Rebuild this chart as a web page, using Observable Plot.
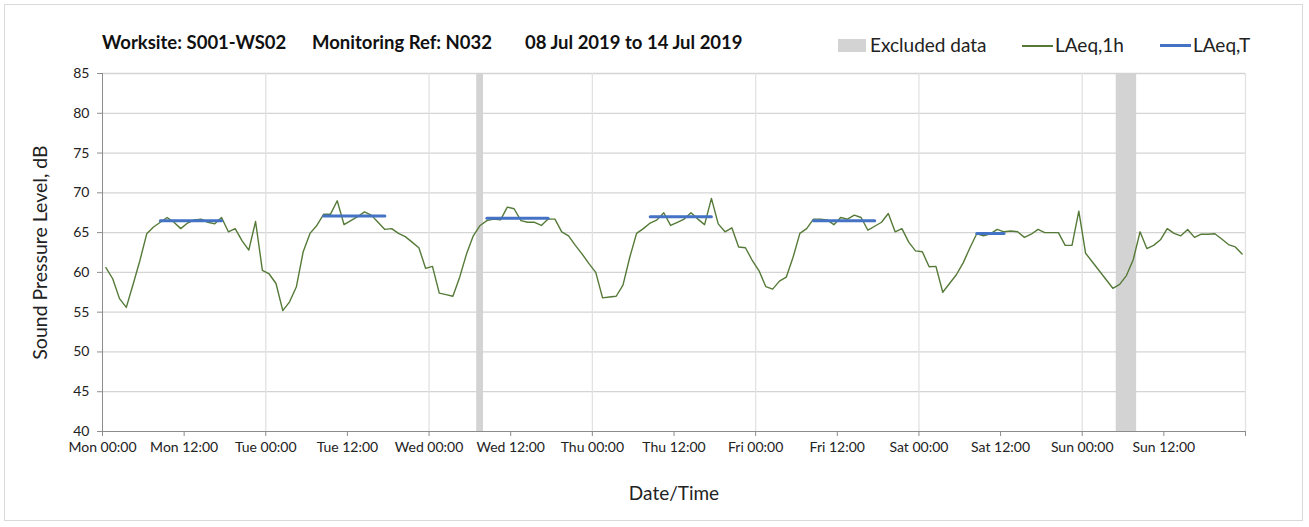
<!DOCTYPE html>
<html>
<head>
<meta charset="utf-8">
<script src="https://cdn.jsdelivr.net/npm/d3@7"></script>
<script src="https://cdn.jsdelivr.net/npm/@observablehq/plot@0.6"></script>
<style>
  body { margin: 0; background: #fff; font-family: Lato, "Open Sans", sans-serif; }
  #wrap { position: relative; width: 1309px; height: 527px; overflow: hidden; }
  #border { position: absolute; left: 4px; top: 4px; width: 1299px; height: 517px; border: 1px solid #d9d9d9; box-sizing: border-box; }
  .t { position: absolute; top: 31px; font-weight: bold; font-size: 18.5px; line-height: 22px; color: #111; white-space: nowrap; }
  .lg { position: absolute; top: 33px; font-size: 19px; line-height: 23px; color: #222; white-space: nowrap; }
  #chart { position: absolute; left: 0; top: 60px; }
</style>
</head>
<body>
<div id="wrap">
  <div id="border"></div>
  <div id="title"></div>
  <div id="legend"></div>
  <div id="chart"></div>
</div>
<script>
// ---- data ----
const titleParts = ["Worksite: S001-WS02", "Monitoring Ref: N032", "08 Jul 2019 to 14 Jul 2019"];
const days = ["Mon", "Tue", "Wed", "Thu", "Fri", "Sat", "Sun"];
const xTickLabels = ["Mon 00:00","Mon 12:00","Tue 00:00","Tue 12:00","Wed 00:00","Wed 12:00","Thu 00:00","Thu 12:00","Fri 00:00","Fri 12:00","Sat 00:00","Sat 12:00","Sun 00:00","Sun 12:00"];
const yTicks = [40, 45, 50, 55, 60, 65, 70, 75, 80, 85];

// hourly LAeq,1h values, Mon 00:00 .. Sun 23:00
const laeq1h = [
  60.6, 59.2, 56.7, 55.6, 58.5, 61.5, 64.85, 65.7, 66.3, 66.9, 66.3, 65.5, 66.2, 66.6, 66.7, 66.3, 66.1, 66.9, 65.1, 65.5, 64.0, 62.8, 66.4, 60.25,
  59.8, 58.6, 55.2, 56.3, 58.2, 62.6, 64.9, 65.9, 67.3, 67.3, 69.0, 66.0, 66.5, 67.0, 67.6, 67.2, 66.3, 65.4, 65.5, 64.9, 64.5, 63.8, 63.1, 60.5,
  60.75, 57.4, 57.2, 57.0, 59.4, 62.3, 64.6, 65.9, 66.5, 66.7, 66.6, 68.2, 68.0, 66.5, 66.3, 66.3, 65.9, 66.7, 66.7, 65.1, 64.6, 63.4, 62.3, 61.1,
  60.0, 56.8, 56.9, 57.0, 58.4, 61.9, 64.9, 65.5, 66.2, 66.6, 67.5, 65.9, 66.3, 66.7, 67.5, 66.7, 66.0, 69.3, 66.1, 65.1, 65.6, 63.2, 63.1, 61.5,
  60.2, 58.2, 57.9, 58.9, 59.4, 61.9, 64.9, 65.5, 66.7, 66.7, 66.6, 66.0, 66.9, 66.7, 67.2, 66.9, 65.3, 65.8, 66.3, 67.4, 65.1, 65.5, 63.8, 62.7,
  62.6, 60.7, 60.75, 57.5, 58.6, 59.7, 61.2, 63.1, 64.85, 64.6, 64.85, 65.4, 65.1, 65.2, 65.1, 64.4, 64.8, 65.4, 65.0, 65.0, 65.0, 63.4, 63.4, 67.7,
  62.4, 61.3, 60.2, 59.1, 58.0, 58.5, 59.6, 61.6, 65.1, 63.0, 63.4, 64.1, 65.5, 64.9, 64.6, 65.4, 64.4, 64.8, 64.8, 64.85, 64.2, 63.5, 63.2, 62.3
];

// LAeq,T over the working-day period
const periodDay   = ["Mon", "Tue", "Wed", "Thu", "Fri", "Sat"];
const periodFrom  = [8, 8, 8, 8, 8, 8];
const periodTo    = [18, 18, 18, 18, 18, 13];
const periodLAeqT = [66.5, 67.1, 66.8, 67.0, 66.5, 64.9];

// excluded periods
const exclDay  = ["Wed", "Sun"];
const exclFrom = [7, 5];
const exclTo   = [8, 8];

const legendLabels = ["Excluded data", "LAeq,1h", "LAeq,T"];

// ---- styles ----
const GREEN = "#557a38";
const BLUE = "#4472c4";
const BAND = "#d3d3d3";

// ---- derived tables ----
const hourly = laeq1h.map((v, i) => ({ t: i + 0.5, v }));
const blue = [];
periodDay.forEach((d, i) => {
  const base = days.indexOf(d) * 24;
  blue.push({ day: d, t: base + periodFrom[i] + 0.5, v: periodLAeqT[i] });
  blue.push({ day: d, t: base + periodTo[i] - 0.5, v: periodLAeqT[i] });
});
const excl = exclDay.map((d, i) => ({ x1: days.indexOf(d) * 24 + exclFrom[i], x2: days.indexOf(d) * 24 + exclTo[i] }));
const xTickPos = xTickLabels.map((_, i) => i * 12);
const dayLines = d3.range(1, days.length + 1).map(i => i * 24);

// ---- title & legend ----
const tl = document.getElementById("title");
[102, 312, 525].forEach((x, i) => {
  const s = document.createElement("div");
  s.className = "t"; s.style.left = x + "px"; s.textContent = titleParts[i];
  tl.appendChild(s);
});
document.getElementById("legend").innerHTML = `
  <div style="position:absolute;left:838px;top:39px;width:28px;height:13px;background:${BAND}"></div>
  <div class="lg" style="left:870px">${legendLabels[0]}</div>
  <div style="position:absolute;left:1022px;top:45px;width:31px;height:1.5px;background:${GREEN}"></div>
  <div class="lg" style="left:1055px">${legendLabels[1]}</div>
  <div style="position:absolute;left:1160px;top:44px;width:31px;height:2.5px;background:${BLUE}"></div>
  <div class="lg" style="left:1193px">${legendLabels[2]}</div>
`;

// ---- chart ----
const chart = Plot.plot({
  width: 1309,
  height: 467,
  marginLeft: 102,
  marginRight: 64,
  marginTop: 13,
  marginBottom: 96,
  style: { fontFamily: "Lato, 'Open Sans', sans-serif", fontSize: "14px", color: "#222", background: "transparent" },
  x: { type: "linear", domain: [0, 168] },
  y: { domain: [40, 85] },
  marks: [
    Plot.ruleY(yTicks.slice(1), { stroke: "#d4d4d4", strokeWidth: 1.3 }),
    Plot.ruleX(dayLines, { stroke: "#e2e2e2", strokeWidth: 1.3 }),
    Plot.rect(excl, { x1: "x1", x2: "x2", y1: 40, y2: 85, fill: BAND }),
    Plot.line(hourly, { x: "t", y: "v", stroke: GREEN, strokeWidth: 1.4 }),
    Plot.line(blue, { x: "t", y: "v", z: "day", stroke: BLUE, strokeWidth: 3 }),
    Plot.ruleX([0], { stroke: "#8c8c8c", strokeWidth: 1 }),
    Plot.ruleY([40], { stroke: "#8c8c8c", strokeWidth: 1 }),
    Plot.axisY({ ticks: yTicks, tickSize: 5, tickPadding: 8, stroke: "#8c8c8c", fontSize: 14, label: null }),
    Plot.axisX({ ticks: [...xTickPos, 168], tickSize: 5, tickPadding: 6, stroke: "#8c8c8c", fontSize: 14,
      tickFormat: d => xTickLabels[d / 12] ?? "", label: null }),
    Plot.text(["Sound Pressure Level, dB"], { frameAnchor: "left", textAnchor: "middle", dx: -62, rotate: -90, fontSize: 19.5, fill: "#222" }),
    Plot.text(["Date/Time"], { frameAnchor: "bottom", dy: 68, fontSize: 19, fill: "#222" })
  ]
});
document.getElementById("chart").appendChild(chart);
</script>
</body>
</html>
